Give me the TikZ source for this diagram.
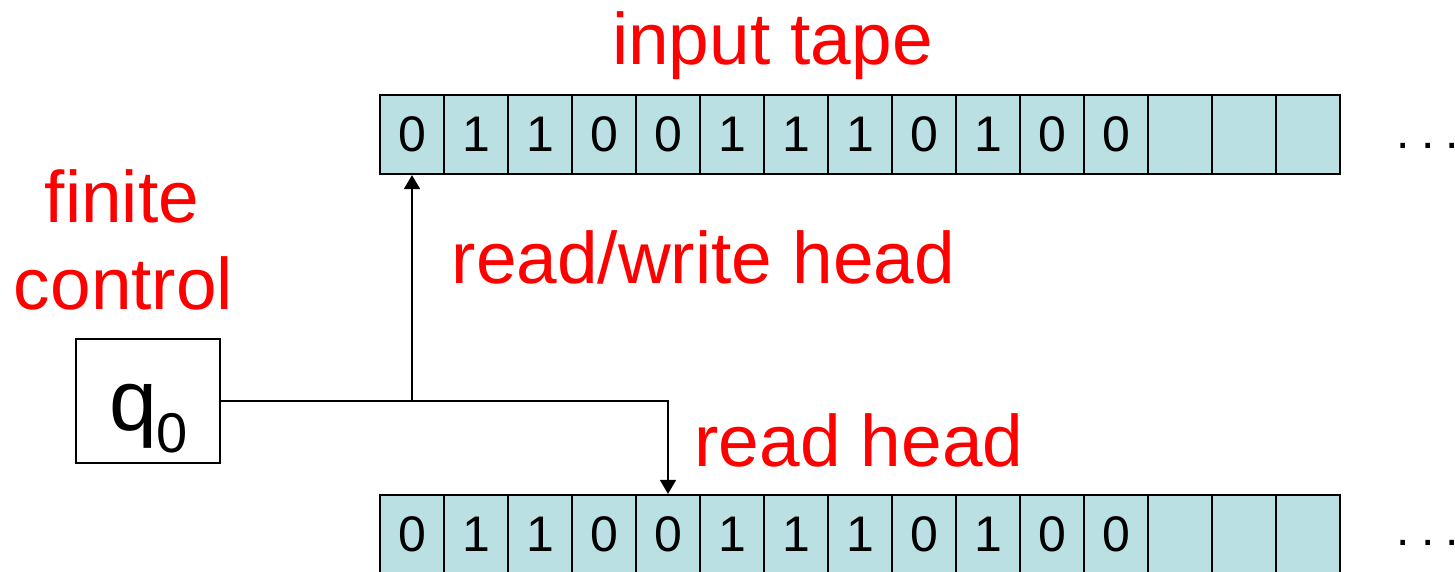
\documentclass[tikz,border=0pt]{standalone}
\usepackage{fontspec}
\setmainfont{Liberation Sans}
\usetikzlibrary{arrows.meta}
\definecolor{cellfill}{RGB}{187,224,227}
\definecolor{lbl}{RGB}{255,0,0}
\begin{document}
\begin{tikzpicture}[x=1pt,y=-1pt,
  cell/.style={draw=black, line width=2.2pt, fill=cellfill, minimum width=64pt, minimum height=79pt, inner sep=0pt, font=\fontsize{50}{50}\selectfont},
  lab/.style={text=lbl, anchor=base, inner sep=0pt, font=\fontsize{73}{80}\selectfont},
  conn/.style={line width=1.6pt, draw=black},
  tip/.style={-{Triangle[width=16pt,length=14pt]}},
  dots/.style={anchor=base west, inner sep=0pt, font=\fontsize{48}{48}\selectfont}]
\useasboundingbox (0,0) rectangle (1455,571);
\foreach \s [count=\i] in {0,1,1,0,0,1,1,1,0,1,0,0,{},{},{}} {
  \node[cell] (t\i) at ({380+64*(\i-0.5)},134.5) {\s};
  \node[cell] (b\i) at ({380+64*(\i-0.5)},534.5) {\s};
}
\node[draw, line width=2pt, minimum width=144pt, minimum height=124pt, inner sep=0pt] (fc) at (148,401) {};
\node[anchor=base, inner sep=0pt] (q) at (148.5,430) {\fontsize{86}{86}\selectfont q\raisebox{-22pt}{\fontsize{56}{56}\selectfont 0}};
\coordinate (j) at (412,401);
\draw[conn] (fc.east) -- (j);
\draw[conn,tip] (j) -- (t1.south);
\draw[conn,tip] (j) -| (b5.north);
\node[dots] (d1) at (1396,148) {.\hspace{11.5pt}.\hspace{11.5pt}.};
\node[dots] (d2) at (1396,545) {.\hspace{11.5pt}.\hspace{11.5pt}.};
\node[lab] (it) at (772.5,64) {input tape};
\node[lab] (fin) at (122,222) {finite};
\node[lab] (ctl) at (123.5,309) {control};
\node[lab] (rw) at (703.5,283) {read/write head};
\node[lab] (rh) at (859,466) {read head};
\end{tikzpicture}
\end{document}
